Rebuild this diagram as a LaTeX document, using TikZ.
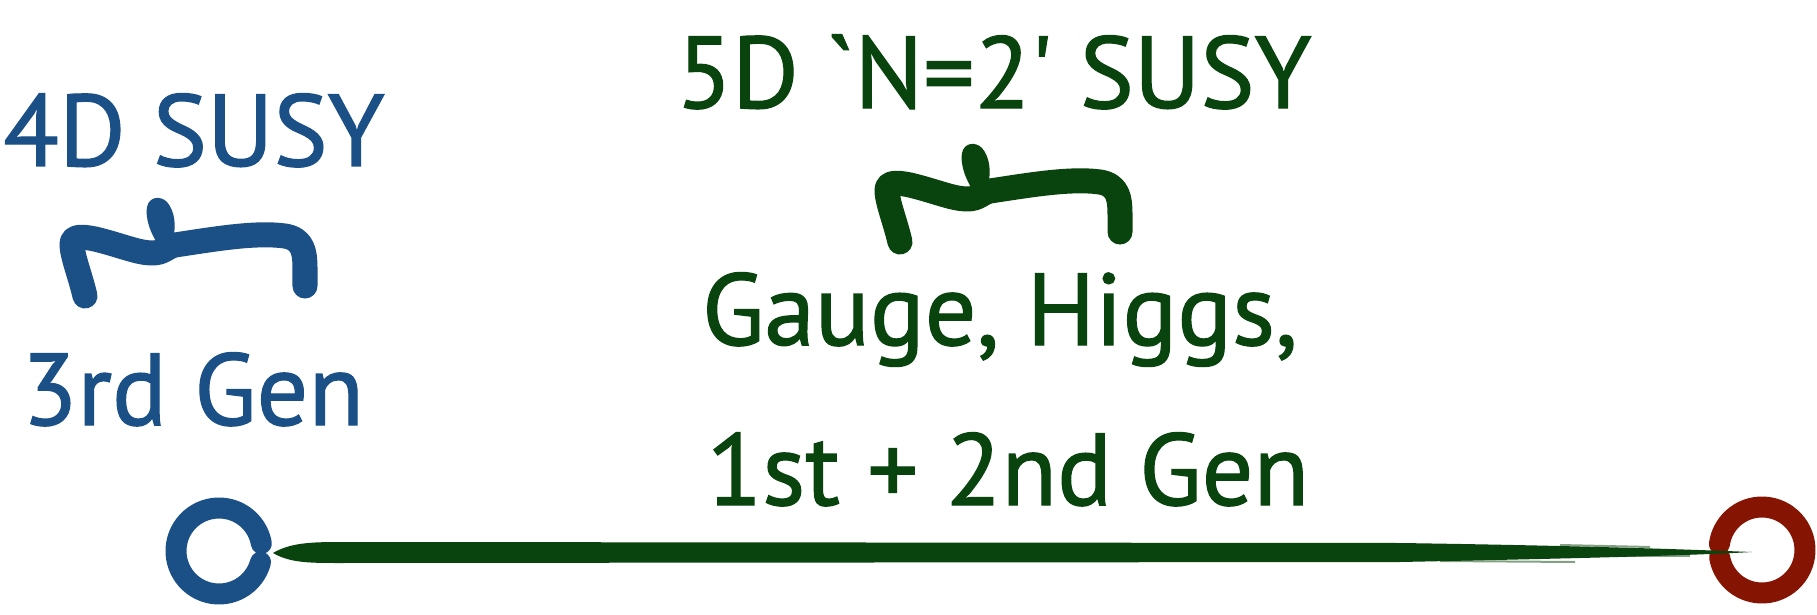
\documentclass[tikz,border=0pt]{standalone}
\usepackage{fontspec}
\setmainfont{PT Sans}
\newfontfamily\handfont{PT Sans}[FakeBold=1.2]
\usepackage{xcolor}
\definecolor{vizBlue}{HTML}{1B5087}
\definecolor{vizGreen}{HTML}{09430D}
\definecolor{vizRed}{HTML}{861402}

\tikzset{
  handtext/.style={anchor=base, inner sep=0pt, font=\handfont\fontsize{29}{35}\selectfont},
  squiggle/.style={line width=0.25cm, line cap=round, line join=round},
  brane/.style={line width=0.21cm, line cap=round},
}

% hand drawn tilde over a bracket, shifted from the 4D one
\newcommand{\tildebrace}[2]{%
  \begin{scope}[shift={#1}]
    \draw[squiggle, #2] (85,296) .. controls (80,275) and (73,258) .. (72,246)
      .. controls (71,236) and (80,236) .. (95,239)
      .. controls (120,245) and (138,253) .. (152,253)
      .. controls (164,253) and (166,247) .. (175,245)
      .. controls (215,239) and (255,232) .. (285,236)
      .. controls (303,239) and (305,252) .. (305,268) -- (305,286);
    \fill[#2] (160,247) .. controls (150,234) and (145,217) .. (147,207)
      .. controls (149,197) and (160,195) .. (167,202)
      .. controls (175,211) and (177,228) .. (172,241) -- cycle;
  \end{scope}}

\begin{document}
\begin{tikzpicture}[x=0.01cm, y=-0.01cm]
  \useasboundingbox (0,0) rectangle (1817,615);

  % labels
  \node[handtext, text=vizBlue] (fourd) at (194,166) {4D SUSY};
  \node[handtext, text=vizBlue] (thirdgen) at (193,425) {3rd Gen};
  \node[handtext, text=vizGreen] (fived) at (994,108) {5D `N=2' SUSY};
  \node[handtext, text=vizGreen] (gauge) at (1000,345) {Gauge, Higgs,};
  \node[handtext, text=vizGreen] (firstgen) at (1008,505) {1st + 2nd Gen};

  \tildebrace{(0,0)}{vizBlue}
  \tildebrace{(815,-54)}{vizGreen}

  % branes and bulk
  \coordinate (bluebrane) at (219,551);
  \coordinate (redbrane) at (1762,550);
  \draw[brane, vizBlue]
    ([shift={(15:43)}]bluebrane) arc[start angle=15, end angle=350, radius=43];
  \draw[brane, vizRed]
    ([shift={(188:43)}]redbrane) arc[start angle=188, end angle=530, radius=43];
  \fill[vizGreen] (273,553) .. controls (290,543) and (310,542) .. (340,542)
    -- (1400,543) .. controls (1600,546) and (1700,550) .. (1752,552)
    .. controls (1700,555) and (1600,558) .. (1400,562)
    -- (340,563) .. controls (310,563) and (290,563) .. (273,553) -- cycle;
  \draw[vizGreen, opacity=0.5, line width=0.02cm] (1440,561) -- (1575,562);
  \draw[vizGreen, opacity=0.5, line width=0.02cm] (1560,545) -- (1650,547);
  \draw[vizGreen, opacity=0.5, line width=0.02cm] (1600,556) -- (1690,556);
\end{tikzpicture}
\end{document}
